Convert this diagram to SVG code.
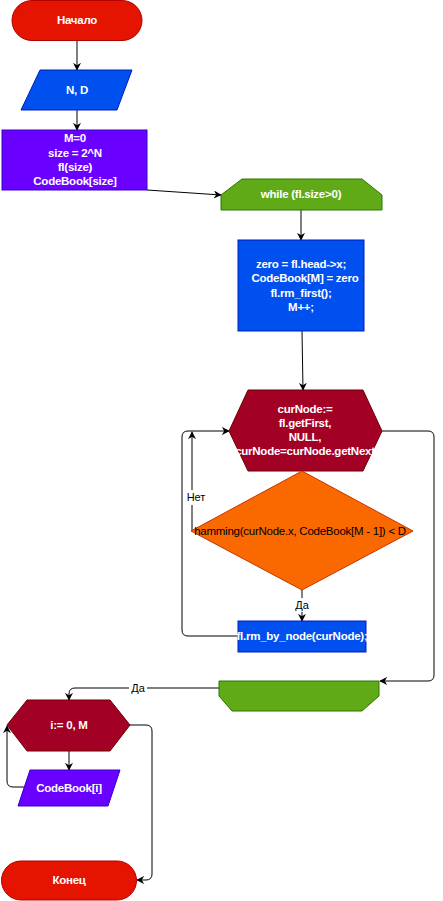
<svg xmlns="http://www.w3.org/2000/svg" width="443" height="901" viewBox="0 0 443 901">
<defs>
<marker id="ah" viewBox="0 0 10 10" refX="9" refY="5" markerWidth="8" markerHeight="8" markerUnits="userSpaceOnUse" orient="auto">
<path d="M0,0 L10,5 L0,10 L3,5 z" fill="#000"/>
</marker>
<style>
.t{font-family:"Liberation Sans",Arial,sans-serif;font-size:11.5px;letter-spacing:-0.25px;font-weight:bold;fill:#fff;text-anchor:middle;dominant-baseline:central}
.n{font-family:"Liberation Sans",Arial,sans-serif;font-size:11.5px;letter-spacing:-0.25px;fill:#000;text-anchor:middle;dominant-baseline:central}
.l{font-family:"Liberation Sans",Arial,sans-serif;font-size:11px;fill:#000;text-anchor:middle;dominant-baseline:central}
.c{fill:none;stroke:#000;stroke-width:1;marker-end:url(#ah)}
.red{fill:#e51400;stroke:#b20000}
.blue{fill:#0050ef;stroke:#001dbc}
.purple{fill:#6a00ff;stroke:#3700cc}
.green{fill:#60a917;stroke:#2d7600}
.crimson{fill:#a20025;stroke:#6f0000}
.orange{fill:#fa6800;stroke:#c73500}
</style>
</defs>
<g id="connectors">
<path class="c" d="M77,40 L77,70"/>
<path class="c" d="M77,110 L77,130"/>
<path class="c" d="M147,190 L221,195"/>
<path class="c" d="M301,210 L301,240"/>
<path class="c" d="M302,331 L303,390"/>
<path class="c" d="M192,531 L192,432"/>
<path class="c" d="M302,590 L302,621"/>
<path class="c" d="M238,636 L188,636 Q182,636 182,630 L182,437 Q182,431 188,431 L229,431"/>
<path class="c" d="M382,431 L428,431 Q434,431 434,437 L434,675 Q434,681 428,681 L380,681"/>
<path class="c" d="M219,688 L75,688 Q69,688 69,694 L69,700"/>
<path class="c" d="M69,751 L69,770"/>
<path class="c" d="M24,787 L13,787 Q7,787 7,781 L7,726"/>
<path class="c" d="M130,725 L146,725 Q152,725 152,731 L152,874 Q152,880 146,880 L137,880"/>
<rect x="185" y="490" width="22" height="15" fill="#fff"/>
<text class="l" x="196" y="497">Нет</text>
<rect x="293" y="598" width="18" height="14" fill="#fff"/>
<text class="l" x="302" y="605">Да</text>
<rect x="129" y="681" width="18" height="14" fill="#fff"/>
<text class="l" x="138" y="688">Да</text>
</g>
<g id="start">
<rect class="red" x="12" y="0.5" width="130" height="40" rx="20"/>
<text class="t" x="77" y="20">Начало</text>
</g>
<g id="input">
<polygon class="blue" points="40,70 132,70 117,110 21,110"/>
<text class="t" x="77" y="90">N, D</text>
</g>
<g id="init">
<rect class="purple" x="2" y="130" width="145" height="60"/>
<text class="t" x="75" y="138">M=0</text>
<text class="t" x="75" y="153">size = 2^N</text>
<text class="t" x="75" y="167">fl(size)</text>
<text class="t" x="75" y="181">CodeBook[size]</text>
</g>
<g id="while">
<polygon class="green" points="242,179 362,179 382,195 382,210 221,210 221,195"/>
<text class="t" x="301" y="194">while (fl.size&gt;0)</text>
</g>
<g id="body">
<rect class="blue" x="238" y="240" width="126" height="91"/>
<text class="t" x="301" y="264">zero = fl.head-&gt;x;</text>
<text class="t" x="305" y="278">CodeBook[M] = zero</text>
<text class="t" x="301" y="293">fl.rm_first();</text>
<text class="t" x="301" y="307">M++;</text>
</g>
<g id="forloop">
<polygon class="crimson" points="248,390 363,390 382,431 363,471 248,471 229,431"/>
<text class="t" x="305" y="409">curNode:=</text>
<text class="t" x="305" y="423">fl.getFirst,</text>
<text class="t" x="305" y="437">NULL,</text>
<text class="t" x="305" y="451">curNode=curNode.getNext</text>
</g>
<g id="decision">
<polygon class="orange" points="302,471 413,531 302,590 191,531"/>
<text class="n" x="300" y="531">hamming(curNode.x, CodeBook[M - 1]) &lt; D</text>
</g>
<g id="remove">
<rect class="blue" x="238" y="621" width="128" height="31"/>
<text class="t" x="302" y="636">fl.rm_by_node(curNode);</text>
</g>
<g id="endwhile">
<polygon class="green" points="219,681 379,681 379,696 362,711 232,711 219,696"/>
</g>
<g id="outloop">
<polygon class="crimson" points="27,700 110,700 130,725 110,751 27,751 7,725"/>
<text class="t" x="69" y="725">i:= 0, M</text>
</g>
<g id="output">
<polygon class="purple" points="30,770 120,770 108,806 18,806"/>
<text class="t" x="69" y="788">CodeBook[i]</text>
</g>
<g id="end">
<rect class="red" x="1.5" y="861" width="135" height="39" rx="19.5"/>
<text class="t" x="69" y="880">Конец</text>
</g>
</svg>
